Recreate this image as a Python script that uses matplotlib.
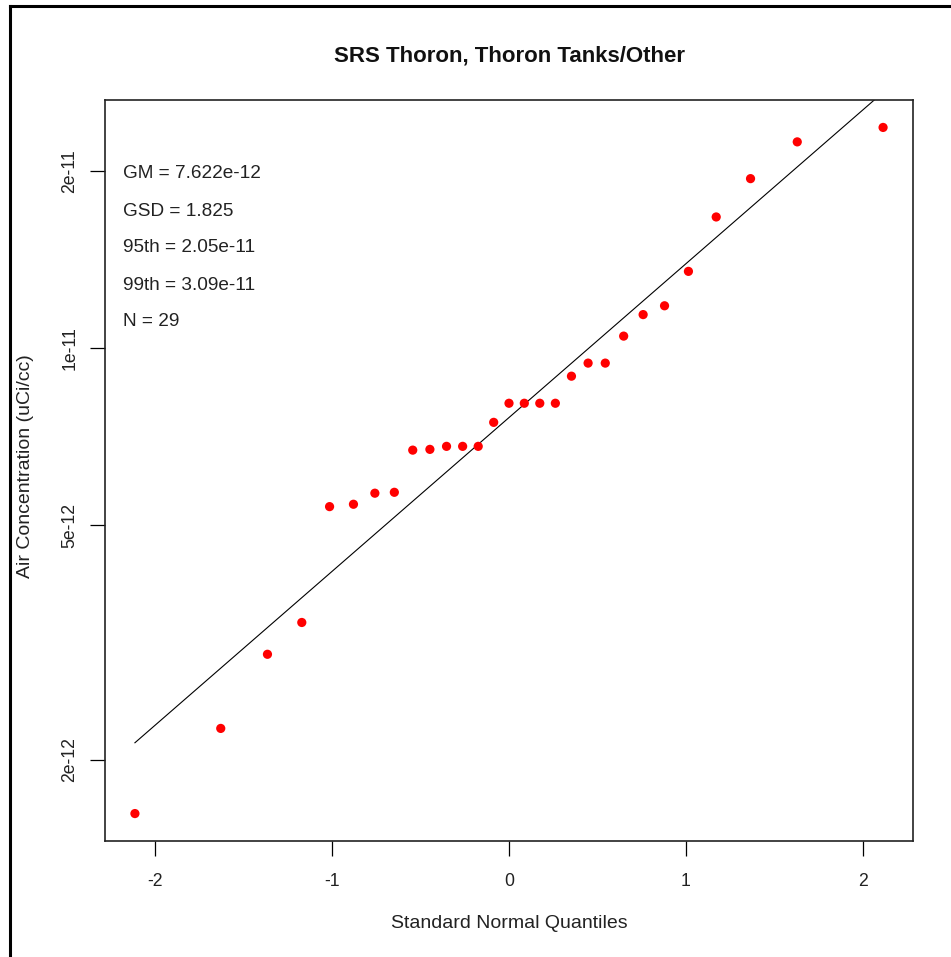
import numpy as np
import matplotlib
matplotlib.use("Agg")
import matplotlib.pyplot as plt
from matplotlib.lines import Line2D
from matplotlib.ticker import FixedLocator, FixedFormatter, NullLocator

# Theoretical normal quantiles (x) and observed air concentrations (y)
quantiles = [-2.114, -1.629, -1.365, -1.171, -1.014, -0.879, -0.758, -0.648,
             -0.544, -0.447, -0.353, -0.262, -0.174, -0.0865, 0.0,
             0.0865, 0.174, 0.262, 0.353, 0.447, 0.544, 0.648, 0.758,
             0.879, 1.014, 1.171, 1.365, 1.629, 2.114]
concentration = [1.62e-12, 2.26e-12, 3.02e-12, 3.42e-12, 5.38e-12, 5.43e-12,
                 5.67e-12, 5.69e-12, 6.71e-12, 6.73e-12, 6.81e-12, 6.81e-12,
                 6.81e-12, 7.48e-12, 8.06e-12, 8.06e-12, 8.06e-12, 8.06e-12,
                 8.96e-12, 9.43e-12, 9.43e-12, 1.048e-11, 1.14e-11, 1.18e-11,
                 1.35e-11, 1.67e-11, 1.94e-11, 2.24e-11, 2.37e-11]

GM = 7.622e-12
GSD = 1.825
stats_lines = ["GM = 7.622e-12", "GSD = 1.825", "95th = 2.05e-11",
               "99th = 3.09e-11", "N = 29"]

x_ticks = [-2, -1, 0, 1, 2]
x_ticklabels = ["-2", "-1", "0", "1", "2"]
y_ticks = [2e-12, 5e-12, 1e-11, 2e-11]
y_ticklabels = ["2e-12", "5e-12", "1e-11", "2e-11"]

plt.rcParams['font.family'] = ['Liberation Sans', 'DejaVu Sans']

W, H = 951, 957
fig = plt.figure(figsize=(W / 100, H / 100), dpi=100)
AX_L, AX_R, AX_T, AX_B = 105, 913, 100, 841
ax = fig.add_axes([AX_L / W, (H - AX_B) / H, (AX_R - AX_L) / W, (AX_B - AX_T) / H])
ax.set_yscale('log')

# fitted line from GM and GSD
zline = np.array([min(quantiles), max(quantiles)])
ax.plot(zline, GM * GSD ** zline, color='black', lw=0.8, zorder=2)

ax.scatter(quantiles, concentration, s=44, color='#ff0000', edgecolors='none', zorder=3)

# R-style 4% axis expansion
xr = max(quantiles) - min(quantiles)
ax.set_xlim(min(quantiles) - 0.04 * xr, max(quantiles) + 0.04 * xr)
ly = np.log10(concentration)
yr = ly.max() - ly.min()
ax.set_ylim(10 ** (ly.min() - 0.04 * yr), 10 ** (ly.max() + 0.04 * yr))

ax.xaxis.set_major_locator(FixedLocator(x_ticks))
ax.xaxis.set_major_formatter(FixedFormatter(x_ticklabels))
ax.yaxis.set_major_locator(FixedLocator(y_ticks))
ax.yaxis.set_major_formatter(FixedFormatter(y_ticklabels))
ax.yaxis.set_minor_locator(NullLocator())
ax.xaxis.set_minor_locator(NullLocator())

ax.tick_params(axis='both', direction='out', length=11, width=0.9, labelsize=12.7,
               color='black', labelcolor='#222222')
ax.tick_params(axis='x', pad=12)
ax.tick_params(axis='y', pad=8)
for lab in ax.get_yticklabels():
    lab.set_rotation(90)
    lab.set_va('center')

for sp in ax.spines.values():
    sp.set_linewidth(1.2)
    sp.set_color('#222222')

aw = AX_R - AX_L
ah = AX_B - AX_T
ax.set_xlabel("Standard Normal Quantiles", fontsize=14, color='#222222', va='center')
ax.xaxis.set_label_coords((509 - AX_L) / aw, -(924 - AX_B) / ah)
ax.set_ylabel("Air Concentration (uCi/cc)", fontsize=14, color='#222222', va='center')
ax.yaxis.set_label_coords(-(AX_L - 26) / aw, (AX_B - 466) / ah)

fig.text(509 / W, (H - 56) / H, "SRS Thoron, Thoron Tanks/Other", fontsize=16,
         fontweight='bold', ha='center', va='center', color='#111111')

ys = [173, 212, 248, 285, 322]
for t, yp in zip(stats_lines, ys):
    fig.text(123 / W, (H - yp) / H, t, fontsize=13.7, ha='left', va='center', color='#222222')

# outer frame (left and top edges)
fig.add_artist(Line2D([10 / W, 10 / W], [0, (H - 6) / H], transform=fig.transFigure,
                      color='black', lw=2.2))
fig.add_artist(Line2D([10 / W, 1], [(H - 6) / H, (H - 6) / H], transform=fig.transFigure,
                      color='black', lw=2.2))

fig.savefig("out.png", dpi=100, facecolor='white')
